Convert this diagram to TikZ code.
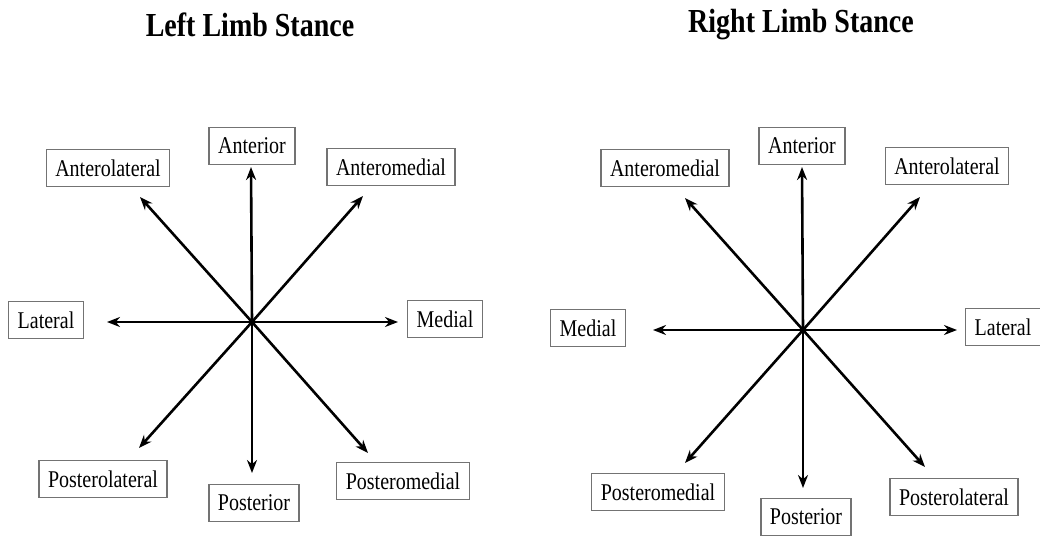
\documentclass[tikz,border=0pt]{standalone}
\usepackage{fontspec}
\usepackage{graphicx}
\setmainfont{Liberation Serif}
\usetikzlibrary{arrows.meta}
\newcommand{\tall}[1]{\scalebox{1}[1.2]{#1}}
\begin{document}
\begin{tikzpicture}[x=1pt,y=-1pt,
  lbl/.style={draw=black!55,line width=1.4pt,fill=white,minimum height=37pt,inner xsep=9pt,inner ysep=4pt,font=\fontsize{20}{24}\selectfont},
  ttl/.style={font=\fontsize{28}{32}\selectfont\bfseries},
  arr/.style={line width=2.6pt,-{Stealth[length=13pt,width=10pt]}},
  ctr/.style={circle,fill=black,inner sep=2.2pt}]
\useasboundingbox (0,0) rectangle (1040,541);
% titles
\node[ttl] (t1) at (250,25) {\tall{Left Limb Stance}};
\node[ttl] (t2) at (801,25) {\tall{Right Limb Stance}};
% left diagram
\node[ctr] (c1) at (252,322) {};
\node[lbl] (la)  at (252,146) {\tall{Anterior}};
\node[lbl] (lal) at (108,168) {\tall{Anterolateral}};
\node[lbl] (lam) at (391,167) {\tall{Anteromedial}};
\node[lbl] (ll)  at (46,320)  {\tall{Lateral}};
\node[lbl] (lm)  at (445,319) {\tall{Medial}};
\node[lbl] (lpl) at (103,479) {\tall{Posterolateral}};
\node[lbl] (lp)  at (254,503) {\tall{Posterior}};
\node[lbl] (lpm) at (403,481) {\tall{Posteromedial}};
\coordinate (ta1)  at (251,167);
\coordinate (tal1) at (140,197);
\coordinate (tam1) at (363,196);
\coordinate (tl1)  at (107,322);
\coordinate (tm1)  at (398,322);
\coordinate (tpl1) at (139,448);
\coordinate (tp1)  at (252,473);
\coordinate (tpm1) at (368,453);
\foreach \t in {ta1,tal1,tam1,tl1,tm1,tpl1,tp1,tpm1} \draw[arr] (c1.center) -- (\t);
% right diagram
\node[ctr] (c2) at (803,330) {};
\node[lbl] (ra)  at (802,146) {\tall{Anterior}};
\node[lbl] (ram) at (665,168) {\tall{Anteromedial}};
\node[lbl] (ral) at (947,166) {\tall{Anterolateral}};
\node[lbl] (rm)  at (588,328) {\tall{Medial}};
\node[lbl] (rl)  at (1003,327) {\tall{Lateral}};
\node[lbl] (rpm) at (658,492) {\tall{Posteromedial}};
\node[lbl] (rp)  at (806,517) {\tall{Posterior}};
\node[lbl] (rpl) at (954,497) {\tall{Posterolateral}};
\coordinate (ta2)  at (802,167);
\coordinate (tam2) at (685,198);
\coordinate (tal2) at (920,197);
\coordinate (tm2)  at (653,330);
\coordinate (tl2)  at (957,330);
\coordinate (tpm2) at (685,463);
\coordinate (tp2)  at (803,488);
\coordinate (tpl2) at (925,467);
\foreach \t in {ta2,tam2,tal2,tm2,tl2,tpm2,tp2,tpl2} \draw[arr] (c2.center) -- (\t);
\end{tikzpicture}
\end{document}
